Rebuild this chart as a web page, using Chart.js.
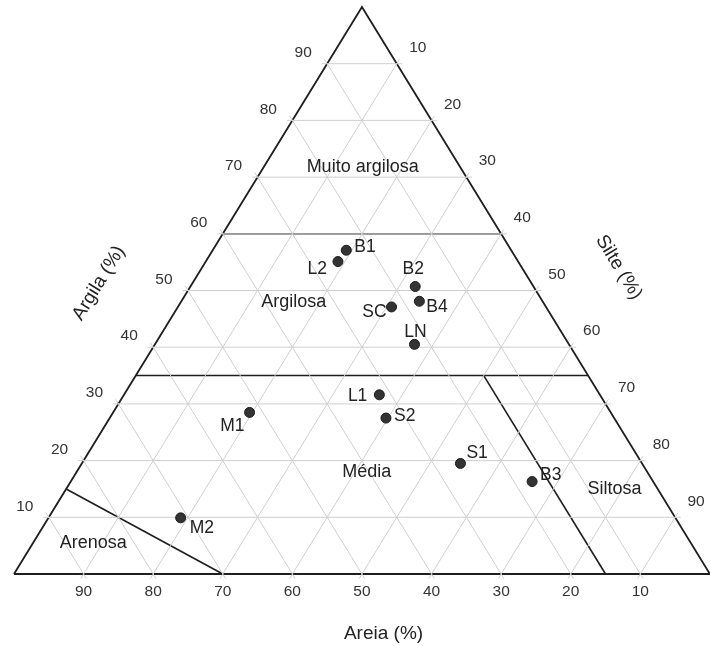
<!DOCTYPE html>
<html>
<head>
<meta charset="utf-8">
<script src="https://cdn.jsdelivr.net/npm/chart.js@4.4.1/dist/chart.umd.min.js"></script>
<style>
  html, body { margin: 0; padding: 0; background: #fff; overflow: hidden; }
  #wrap { width: 710px; height: 646px; position: relative; }
</style>
</head>
<body>
<div id="wrap"><canvas id="chart"></canvas></div>
<script>
// Amostras de solo: frações granulométricas (%)
const amostras = ['B1', 'L2', 'B2', 'B4', 'SC', 'LN', 'L1', 'M1', 'S2', 'S1', 'B3', 'M2'];
const argila   = [57.1, 55.1, 50.7, 48.1, 47.1, 40.5, 31.6, 28.5, 27.5, 19.5, 16.3, 9.9];
const silte    = [19.2, 19.0, 32.3, 34.2, 30.7, 37.3, 36.7, 19.6, 39.7, 54.4, 66.3, 19.0];
const areia    = [23.7, 25.9, 17.0, 17.7, 22.2, 22.2, 31.7, 51.9, 32.8, 26.1, 17.4, 71.1];

// Valores das marcas nos três eixos
const marcas = [10, 20, 30, 40, 50, 60, 70, 80, 90];

// Classes texturais e seus limites (pares [argila, silte])
const classes = ['Muito argilosa', 'Argilosa', 'Média', 'Arenosa', 'Siltosa'];
const limites = [
  [[60, 0], [60, 40]],
  [[35, 0], [35, 65]],
  [[35, 50], [0, 85]],
  [[15, 0], [0, 30]]
];

// Coordenadas cartesianas de um ponto ternário
function tern(c, s) { return { x: s + c / 2, y: c }; }

// Posições (unidades do gráfico) dos nomes das classes
const posClasses = [
  { x: 50.1, y: 71.8 },
  { x: 40.2, y: 48.0 },
  { x: 50.7, y: 18.0 },
  { x: 11.4, y: 5.5 },
  { x: 86.3, y: 15.0 }
];

// Deslocamento (px) e alinhamento dos rótulos das amostras
const rotulos = {
  B1: [8, -3, 'left'],  L2: [-11, 8, 'right'], B2: [-2, -17, 'center'],
  B4: [7, 6, 'left'],   SC: [-5, 5, 'right'],  LN: [1, -12, 'center'],
  L1: [-12, 1, 'right'], M1: [-5, 14, 'right'], S2: [8, -2, 'left'],
  S1: [6, -10, 'left'], B3: [8, -6, 'left'],   M2: [9, 10, 'left']
};

const FONT = '"Liberation Sans", Arial, sans-serif';
const datasets = [];

function linha(pts, color, width) {
  datasets.push({
    type: 'scatter', data: pts, showLine: true, borderColor: color,
    borderWidth: width, pointRadius: 0, fill: false, clip: false, order: 3
  });
}

// Grade a cada 10 % (com pequenas extensões para fora do triângulo)
const ext = 0.8;
marcas.forEach(k => {
  linha([tern(k, -ext), tern(k, 100 - k + ext)], '#cfcfcf', 1);                 // argila constante
  linha([tern(-ext, k), tern(100 - k + ext, k)], '#cfcfcf', 1);                 // silte constante
  linha([tern(-ext, 100 - k + ext), tern(100 - k + ext, -ext)], '#cfcfcf', 1); // areia constante
});

// Limites das classes
limites.forEach(seg => linha(seg.map(p => tern(p[0], p[1])), '#1e1e1e', 1.6));

// Contorno do triângulo
linha([tern(0, 0), tern(0, 100), tern(100, 0), tern(0, 0)], '#1e1e1e', 1.8);

// Amostras
datasets.push({
  type: 'scatter',
  data: amostras.map((n, i) => tern(argila[i], silte[i])),
  pointRadius: 5, pointBackgroundColor: '#333', pointBorderColor: '#1a1a1a',
  pointBorderWidth: 1, clip: false, order: 1
});

const textos = {
  id: 'textos',
  afterDatasetsDraw(chart) {
    const ctx = chart.ctx, xs = chart.scales.x, ys = chart.scales.y;
    const P = (p) => ({ x: xs.getPixelForValue(p.x), y: ys.getPixelForValue(p.y) });
    ctx.save();
    ctx.textBaseline = 'middle';

    // Marcas dos eixos
    ctx.fillStyle = '#333';
    ctx.font = '15.5px ' + FONT;
    ctx.textAlign = 'center';
    marcas.forEach(k => {
      const l = P(tern(k, 0));          // Argila (lado esquerdo)
      ctx.fillText(String(k), l.x - 24, l.y - 11);
      const r = P(tern(100 - k, k));    // Silte (lado direito)
      ctx.fillText(String(k), r.x + 21, r.y - 16);
      const b = P(tern(0, 100 - k));    // Areia (base)
      ctx.fillText(String(k), b.x, b.y + 18);
    });

    // Títulos dos eixos
    ctx.fillStyle = '#222';
    ctx.font = '19px ' + FONT;
    const ta = P({ x: 53.1, y: -10.6 });
    ctx.fillText('Areia (%)', ta.x, ta.y);
    const angulo = Math.atan2(ys.getPixelForValue(0) - ys.getPixelForValue(100),
                              xs.getPixelForValue(50) - xs.getPixelForValue(0));
    const tg = P({ x: 12.2, y: 51.3 });
    ctx.save(); ctx.translate(tg.x, tg.y); ctx.rotate(-angulo);
    ctx.fillText('Argila (%)', 0, 0); ctx.restore();
    const tsl = P({ x: 86.9, y: 54.1 });
    ctx.save(); ctx.translate(tsl.x, tsl.y); ctx.rotate(angulo);
    ctx.fillText('Silte (%)', 0, 0); ctx.restore();

    // Nomes das classes
    ctx.font = '18px ' + FONT;
    classes.forEach((nome, i) => {
      const p = P(posClasses[i]);
      ctx.fillText(nome, p.x, p.y);
    });

    // Rótulos das amostras
    ctx.font = '17.5px ' + FONT;
    amostras.forEach((n, i) => {
      const p = P(tern(argila[i], silte[i]));
      const [dx, dy, al] = rotulos[n];
      ctx.textAlign = al;
      ctx.fillText(n, p.x + dx, p.y + dy);
    });
    ctx.restore();
  }
};

new Chart(document.getElementById('chart'), {
  type: 'scatter',
  data: { datasets },
  options: {
    responsive: true,
    maintainAspectRatio: false,
    animation: false,
    events: [],
    layout: { padding: { left: 14, right: 0, top: 7, bottom: 72 } },
    scales: {
      x: { type: 'linear', min: 0, max: 99.15, display: false },
      y: { type: 'linear', min: 0, max: 100, display: false }
    },
    plugins: { legend: { display: false }, tooltip: { enabled: false } }
  },
  plugins: [textos]
});
</script>
</body>
</html>
